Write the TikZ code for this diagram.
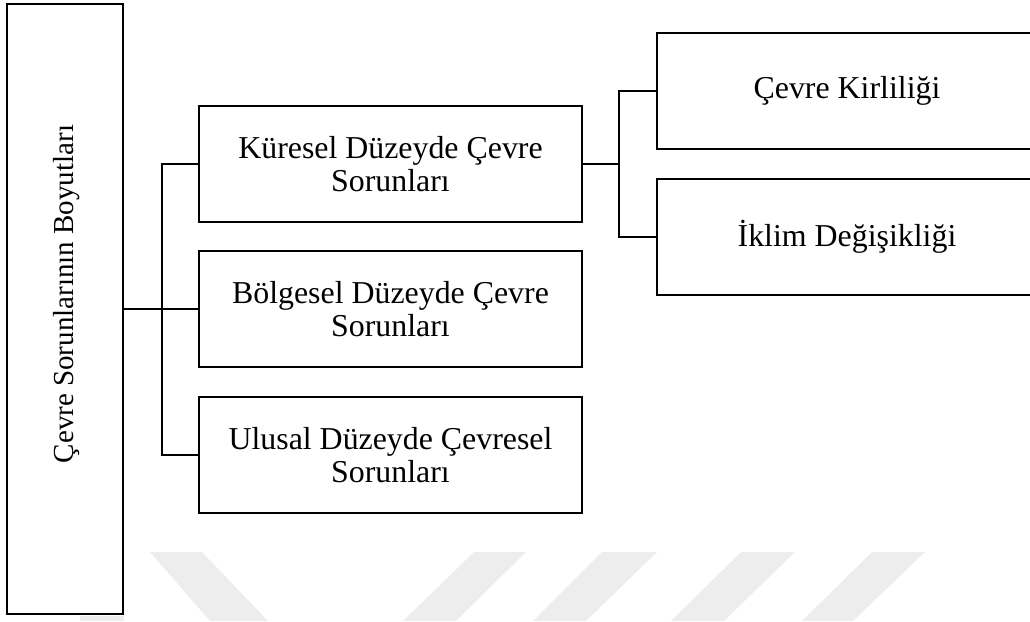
\documentclass[tikz,border=0pt]{standalone}
\usepackage{fontspec}
\setmainfont{Liberation Serif}
\begin{document}
\begin{tikzpicture}[x=0.75pt,y=-0.75pt,
  box/.style={draw=black,line width=1.95pt,fill=white,rectangle,inner sep=0pt,align=center,
    font=\fontsize{23.9pt}{24.75pt}\selectfont},
  conn/.style={draw=black,line width=1.7pt},
  wm/.style={fill=black!7,draw=none}]
\useasboundingbox (0,0) rectangle (1030,621);
\clip (0,0) rectangle (1030,621);
% watermark bands
\fill[wm] (150,552) -- (202,552) -- (268,621) -- (210,621) -- cycle;
\fill[wm] (474,552) -- (526,552) -- (456,621) -- (403,621) -- cycle;
\fill[wm] (602,552) -- (657,552) -- (586,621) -- (533,621) -- cycle;
\fill[wm] (741,552) -- (795,552) -- (724,621) -- (671,621) -- cycle;
\fill[wm] (872,552) -- (925,552) -- (853,621) -- (802,621) -- cycle;
\fill[wm] (80,616) rectangle (124,621);
% nodes
\node[box,minimum width=87pt,minimum height=457.5pt] (L) at (65,309) {};
\node[rotate=90,inner sep=0pt,font=\fontsize{21.75pt}{24pt}\selectfont] (Ltxt) at (67,294) {Çevre Sorunlarının Boyutları};
\node[box,minimum width=287.25pt,minimum height=87pt] (M1) at (390.5,164) {Küresel Düzeyde Çevre\\Sorunları};
\node[box,minimum width=287.25pt,minimum height=87pt] (M2) at (390.5,309) {Bölgesel Düzeyde Çevre\\Sorunları};
\node[box,minimum width=287.25pt,minimum height=87pt] (M3) at (390.5,455) {Ulusal Düzeyde Çevresel\\Sorunları};
\node[box,minimum width=285pt,minimum height=87pt] (R1) at (847,91) {Çevre Kirliliği};
\node[box,minimum width=285pt,minimum height=87pt] (R2) at (847,237) {İklim Değişikliği};
% connectors
\coordinate (tj) at (162,309);
\coordinate (rj) at (619,164);
\draw[conn] (L.east) -- (M2.west);
\draw[conn] (M1.west) -| (tj);
\draw[conn] (M3.west) -| (tj);
\draw[conn] (M1.east) -- (rj);
\draw[conn] (R1.west) -| (rj);
\draw[conn] (R2.west) -| (rj);
\end{tikzpicture}
\end{document}
